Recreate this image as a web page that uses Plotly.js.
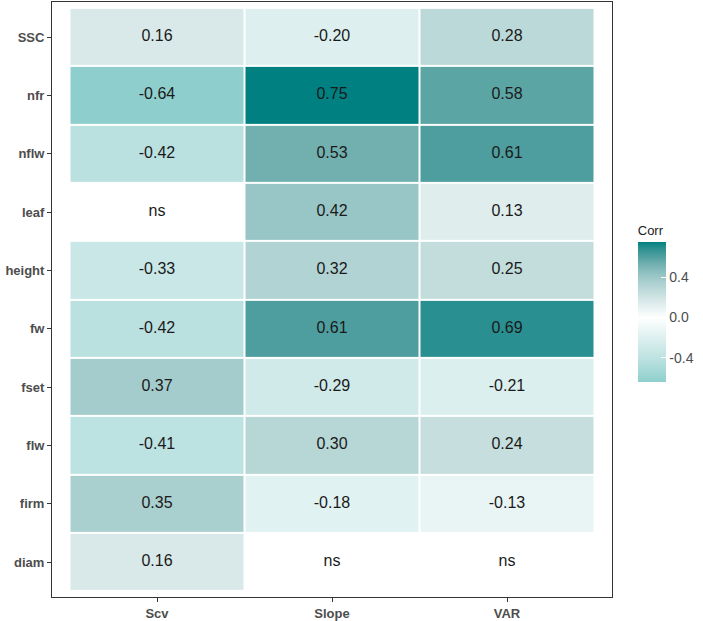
<!DOCTYPE html>
<html>
<head>
<meta charset="utf-8">
<script src="https://cdn.plot.ly/plotly-3.0.1.min.js"></script>
<style>html,body{margin:0;padding:0;background:#fff;}#chart{width:703px;height:621px;}</style>
</head>
<body>
<div id="chart"></div>
<script>
// Columns and rows (rows listed bottom to top)
const columns = ['Scv', 'Slope', 'VAR'];
const rows = ['diam', 'firm', 'flw', 'fset', 'fw', 'height', 'leaf', 'nflw', 'nfr', 'SSC'];
// Correlation values per column (null = ns), in row order above
const scv   = [0.16, 0.35, -0.41, 0.37, -0.42, -0.33, null, -0.42, -0.64, 0.16];
const slope = [null, -0.18, 0.30, -0.29, 0.61, 0.32, 0.42, 0.53, 0.75, -0.20];
const varv  = [null, -0.13, 0.24, -0.21, 0.69, 0.25, 0.13, 0.61, 0.58, 0.28];
const colorTicks = [-0.4, 0.0, 0.4];
const colorTickText = ['-0.4', '0.0', '0.4'];

const cols = [scv, slope, varv];
const z = rows.map((r, i) => cols.map(c => c[i]));
const zmin = -0.64, zmax = 0.75;
const norm = v => (v - zmin) / (zmax - zmin);
const colorscale = [
  [norm(-0.64), '#8ECFCD'],
  [norm(-0.42), '#BAE1E0'],
  [norm(-0.20), '#DDF0EF'],
  [norm(0.0),  '#FFFFFF'],
  [norm(0.13), '#E0EDED'],
  [norm(0.28), '#BCD9D9'],
  [norm(0.42), '#98C5C5'],
  [norm(0.53), '#72B0B0'],
  [norm(0.61), '#4E9E9F'],
  [norm(0.69), '#2A8F90'],
  [norm(0.75), '#008080']
];

const tx = [], ty = [], tt = [];
rows.forEach((r, i) => columns.forEach((c, j) => {
  tx.push(c); ty.push(r);
  const v = cols[j][i];
  tt.push(v === null ? 'ns' : v.toFixed(2));
}));

const heat = {
  type: 'heatmap', x: columns, y: rows, z: z,
  zmin: zmin, zmax: zmax, colorscale: colorscale,
  xgap: 2, ygap: 2, hoverongaps: false,
  colorbar: {
    x: 1.046, xanchor: 'left', y: 0.496, yanchor: 'middle',
    thickness: 28, len: 160, lenmode: 'pixels',
    xpad: 0, ypad: 0, outlinewidth: 0,
    title: {text: 'Corr', side: 'top', font: {family: 'Liberation Sans, Arial, sans-serif', size: 13, color: '#1a1a1a'}},
    tickvals: colorTicks, ticktext: colorTickText,
    ticks: 'inside', ticklen: 5, tickcolor: '#ffffff', tickwidth: 1,
    tickfont: {family: 'Liberation Sans, Arial, sans-serif', size: 14, color: '#4d4d4d'}
  }
};
const labels = {
  type: 'scatter', mode: 'text', x: tx, y: ty, text: tt,
  textfont: {family: 'Liberation Sans, Arial, sans-serif', size: 16, color: '#1a1a1a'},
  hoverinfo: 'skip', showlegend: false
};

const axisCommon = {
  showline: true, mirror: true, linecolor: '#333333', linewidth: 1,
  ticks: 'outside', ticklen: 4, tickcolor: '#333333', showgrid: false, zeroline: false,
  tickfont: {family: 'Liberation Sans, Arial, sans-serif', size: 13, color: '#4d4d4d', weight: 'bold'}
};
const layout = {
  width: 703, height: 621,
  margin: {l: 52, r: 91, t: 2, b: 24},
  paper_bgcolor: '#ffffff', plot_bgcolor: '#ffffff',
  showlegend: false,
  xaxis: Object.assign({}, axisCommon, {type: 'category', categoryarray: columns, range: [-0.6, 2.6]}),
  yaxis: Object.assign({}, axisCommon, {type: 'category', categoryarray: rows, range: [-0.6, 9.6]})
};
Plotly.newPlot('chart', [heat, labels], layout, {displayModeBar: false, staticPlot: true});
</script>
</body>
</html>
